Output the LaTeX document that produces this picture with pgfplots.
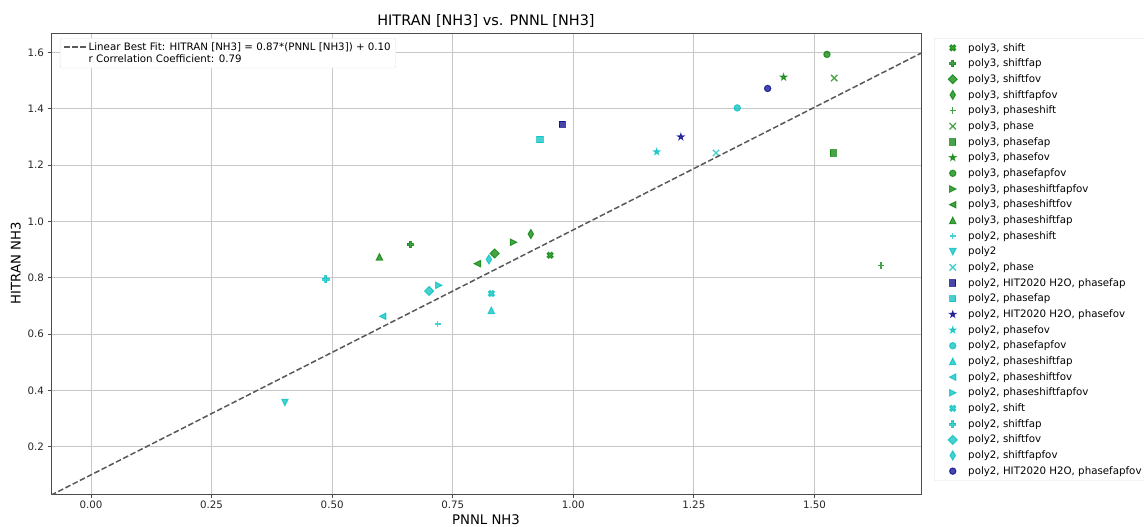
\documentclass[border=0pt]{standalone}
\usepackage{fontspec}
\setmainfont{DejaVu Sans}
\usepackage{pgfplots}
\pgfplotsset{compat=1.18}
\usetikzlibrary{calc}

\definecolor{cG}{RGB}{0,128,0}
\definecolor{cC}{RGB}{0,191,191}
\definecolor{cB}{RGB}{0,0,139}

% matplotlib-like markers, \pgfplotmarksize = half the marker size
\pgfdeclareplotmark{mplP}{%
  \pgfpathmoveto{\pgfpoint{-0.3333\pgfplotmarksize}{-\pgfplotmarksize}}%
  \pgfpathlineto{\pgfpoint{0.3333\pgfplotmarksize}{-\pgfplotmarksize}}%
  \pgfpathlineto{\pgfpoint{0.3333\pgfplotmarksize}{-0.3333\pgfplotmarksize}}%
  \pgfpathlineto{\pgfpoint{\pgfplotmarksize}{-0.3333\pgfplotmarksize}}%
  \pgfpathlineto{\pgfpoint{\pgfplotmarksize}{0.3333\pgfplotmarksize}}%
  \pgfpathlineto{\pgfpoint{0.3333\pgfplotmarksize}{0.3333\pgfplotmarksize}}%
  \pgfpathlineto{\pgfpoint{0.3333\pgfplotmarksize}{\pgfplotmarksize}}%
  \pgfpathlineto{\pgfpoint{-0.3333\pgfplotmarksize}{\pgfplotmarksize}}%
  \pgfpathlineto{\pgfpoint{-0.3333\pgfplotmarksize}{0.3333\pgfplotmarksize}}%
  \pgfpathlineto{\pgfpoint{-\pgfplotmarksize}{0.3333\pgfplotmarksize}}%
  \pgfpathlineto{\pgfpoint{-\pgfplotmarksize}{-0.3333\pgfplotmarksize}}%
  \pgfpathlineto{\pgfpoint{-0.3333\pgfplotmarksize}{-0.3333\pgfplotmarksize}}%
  \pgfpathclose\pgfusepathqfillstroke}
\pgfdeclareplotmark{mplX}{%
  \begin{pgfscope}\pgftransformrotate{45}%
  \pgfpathmoveto{\pgfpoint{-0.3333\pgfplotmarksize}{-\pgfplotmarksize}}%
  \pgfpathlineto{\pgfpoint{0.3333\pgfplotmarksize}{-\pgfplotmarksize}}%
  \pgfpathlineto{\pgfpoint{0.3333\pgfplotmarksize}{-0.3333\pgfplotmarksize}}%
  \pgfpathlineto{\pgfpoint{\pgfplotmarksize}{-0.3333\pgfplotmarksize}}%
  \pgfpathlineto{\pgfpoint{\pgfplotmarksize}{0.3333\pgfplotmarksize}}%
  \pgfpathlineto{\pgfpoint{0.3333\pgfplotmarksize}{0.3333\pgfplotmarksize}}%
  \pgfpathlineto{\pgfpoint{0.3333\pgfplotmarksize}{\pgfplotmarksize}}%
  \pgfpathlineto{\pgfpoint{-0.3333\pgfplotmarksize}{\pgfplotmarksize}}%
  \pgfpathlineto{\pgfpoint{-0.3333\pgfplotmarksize}{0.3333\pgfplotmarksize}}%
  \pgfpathlineto{\pgfpoint{-\pgfplotmarksize}{0.3333\pgfplotmarksize}}%
  \pgfpathlineto{\pgfpoint{-\pgfplotmarksize}{-0.3333\pgfplotmarksize}}%
  \pgfpathlineto{\pgfpoint{-0.3333\pgfplotmarksize}{-0.3333\pgfplotmarksize}}%
  \pgfpathclose\pgfusepathqfillstroke\end{pgfscope}}
\pgfdeclareplotmark{mplD}{%
  \pgfpathmoveto{\pgfpoint{0pt}{1.414\pgfplotmarksize}}%
  \pgfpathlineto{\pgfpoint{1.414\pgfplotmarksize}{0pt}}%
  \pgfpathlineto{\pgfpoint{0pt}{-1.414\pgfplotmarksize}}%
  \pgfpathlineto{\pgfpoint{-1.414\pgfplotmarksize}{0pt}}%
  \pgfpathclose\pgfusepathqfillstroke}
\pgfdeclareplotmark{mpld}{%
  \pgfpathmoveto{\pgfpoint{0pt}{1.414\pgfplotmarksize}}%
  \pgfpathlineto{\pgfpoint{0.849\pgfplotmarksize}{0pt}}%
  \pgfpathlineto{\pgfpoint{0pt}{-1.414\pgfplotmarksize}}%
  \pgfpathlineto{\pgfpoint{-0.849\pgfplotmarksize}{0pt}}%
  \pgfpathclose\pgfusepathqfillstroke}
\pgfdeclareplotmark{mpls}{%
  \pgfpathrectangle{\pgfpoint{-\pgfplotmarksize}{-\pgfplotmarksize}}{\pgfpoint{2\pgfplotmarksize}{2\pgfplotmarksize}}%
  \pgfusepathqfillstroke}
\pgfdeclareplotmark{mplo}{%
  \pgfpathcircle{\pgfpointorigin}{\pgfplotmarksize}\pgfusepathqfillstroke}
\pgfdeclareplotmark{mplup}{%
  \pgfpathmoveto{\pgfpoint{0pt}{\pgfplotmarksize}}%
  \pgfpathlineto{\pgfpoint{-\pgfplotmarksize}{-\pgfplotmarksize}}%
  \pgfpathlineto{\pgfpoint{\pgfplotmarksize}{-\pgfplotmarksize}}%
  \pgfpathclose\pgfusepathqfillstroke}
\pgfdeclareplotmark{mpldown}{%
  \pgfpathmoveto{\pgfpoint{0pt}{-\pgfplotmarksize}}%
  \pgfpathlineto{\pgfpoint{-\pgfplotmarksize}{\pgfplotmarksize}}%
  \pgfpathlineto{\pgfpoint{\pgfplotmarksize}{\pgfplotmarksize}}%
  \pgfpathclose\pgfusepathqfillstroke}
\pgfdeclareplotmark{mplleft}{%
  \pgfpathmoveto{\pgfpoint{-\pgfplotmarksize}{0pt}}%
  \pgfpathlineto{\pgfpoint{\pgfplotmarksize}{\pgfplotmarksize}}%
  \pgfpathlineto{\pgfpoint{\pgfplotmarksize}{-\pgfplotmarksize}}%
  \pgfpathclose\pgfusepathqfillstroke}
\pgfdeclareplotmark{mplright}{%
  \pgfpathmoveto{\pgfpoint{\pgfplotmarksize}{0pt}}%
  \pgfpathlineto{\pgfpoint{-\pgfplotmarksize}{\pgfplotmarksize}}%
  \pgfpathlineto{\pgfpoint{-\pgfplotmarksize}{-\pgfplotmarksize}}%
  \pgfpathclose\pgfusepathqfillstroke}
\pgfdeclareplotmark{mplstar}{%
  \pgfpathmoveto{\pgfpointpolar{90}{\pgfplotmarksize}}%
  \pgfpathlineto{\pgfpointpolar{126}{0.382\pgfplotmarksize}}%
  \pgfpathlineto{\pgfpointpolar{162}{\pgfplotmarksize}}%
  \pgfpathlineto{\pgfpointpolar{198}{0.382\pgfplotmarksize}}%
  \pgfpathlineto{\pgfpointpolar{234}{\pgfplotmarksize}}%
  \pgfpathlineto{\pgfpointpolar{270}{0.382\pgfplotmarksize}}%
  \pgfpathlineto{\pgfpointpolar{306}{\pgfplotmarksize}}%
  \pgfpathlineto{\pgfpointpolar{342}{0.382\pgfplotmarksize}}%
  \pgfpathlineto{\pgfpointpolar{18}{\pgfplotmarksize}}%
  \pgfpathlineto{\pgfpointpolar{54}{0.382\pgfplotmarksize}}%
  \pgfpathclose\pgfusepathqfillstroke}
\pgfdeclareplotmark{mplplus}{%
  \pgfsetlinewidth{1.4bp}%
  \pgfpathmoveto{\pgfpoint{-\pgfplotmarksize}{0pt}}%
  \pgfpathlineto{\pgfpoint{\pgfplotmarksize}{0pt}}%
  \pgfpathmoveto{\pgfpoint{0pt}{-\pgfplotmarksize}}%
  \pgfpathlineto{\pgfpoint{0pt}{\pgfplotmarksize}}%
  \pgfusepathqstroke}
\pgfdeclareplotmark{mplx}{%
  \pgfsetlinewidth{1.3bp}%
  \pgfpathmoveto{\pgfpoint{-\pgfplotmarksize}{-\pgfplotmarksize}}%
  \pgfpathlineto{\pgfpoint{\pgfplotmarksize}{\pgfplotmarksize}}%
  \pgfpathmoveto{\pgfpoint{-\pgfplotmarksize}{\pgfplotmarksize}}%
  \pgfpathlineto{\pgfpoint{\pgfplotmarksize}{-\pgfplotmarksize}}%
  \pgfusepathqstroke}

\newcommand{\sm}{\fontsize{10.3}{12}\selectfont}

\pgfplotsset{
  base/.style={
    width=870bp, height=461bp, scale only axis,
    xmin=-0.083, xmax=1.721, ymin=0.032, ymax=1.669,
  },
  pt/.style={only marks, mark=#1, mark size=3.2bp, line width=1bp, opacity=0.72,
    legend image code/.code={\path (0bp,-1bp) (28bp,1bp);
      \draw[only marks] plot coordinates {(15bp,0bp)};}},
  G/.style={pt=#1, color=cG},
  C/.style={pt=#1, color=cC},
  B/.style={pt=#1, color=cB},
}

\begin{document}
\begin{tikzpicture}
\begin{axis}[base,
  xtick={0,0.25,0.5,0.75,1,1.25,1.5},
  ytick={0.2,0.4,0.6,0.8,1.0,1.2,1.4,1.6},
  grid=major, grid style={black!22, line width=0.8bp},
  axis line style={black!70, line width=0.8bp},
  tick style={black!70, line width=0.8bp},
  tick align=outside, tick pos=left, major tick length=3.5bp,
  tick label style={font=\sm, color=black!85},
  /pgf/number format/assume math mode=true,
  x tick label style={/pgf/number format/.cd, fixed, fixed zerofill, precision=2},
  y tick label style={/pgf/number format/.cd, fixed, fixed zerofill, precision=1},
  title={HITRAN [NH3] vs. PNNL [NH3]},
  title style={font=\fontsize{14.5}{17}\selectfont, yshift=-4bp},
  xlabel={PNNL NH3}, ylabel={HITRAN NH3},
  label style={font=\fontsize{13.3}{16}\selectfont},
  xlabel style={yshift=1bp},
  legend cell align=left,
  legend style={at={(1.015,0.989)}, anchor=north west, draw=black!12, fill=white,
    rounded corners=2bp, font=\sm, row sep=2.4bp, inner xsep=3bp, inner ysep=3bp},
]
\coordinate (SW) at (rel axis cs:0,0);
\addplot[G=mplX] coordinates {(0.952,0.880)}; \addlegendentry{poly3, shift}
\addplot[G=mplP] coordinates {(0.662,0.918)}; \addlegendentry{poly3, shiftfap}
\addplot[G=mplD] coordinates {(0.837,0.886)}; \addlegendentry{poly3, shiftfov}
\addplot[G=mpld] coordinates {(0.912,0.955)}; \addlegendentry{poly3, shiftfapfov}
\addplot[G=mplplus] coordinates {(1.638,0.843)}; \addlegendentry{poly3, phaseshift}
\addplot[G=mplx] coordinates {(1.541,1.509)}; \addlegendentry{poly3, phase}
\addplot[G=mpls] coordinates {(1.539,1.243)}; \addlegendentry{poly3, phasefap}
\addplot[G=mplstar] coordinates {(1.436,1.512)}; \addlegendentry{poly3, phasefov}
\addplot[G=mplo] coordinates {(1.526,1.593)}; \addlegendentry{poly3, phasefapfov}
\addplot[G=mplright] coordinates {(0.876,0.926)}; \addlegendentry{poly3, phaseshiftfapfov}
\addplot[G=mplleft] coordinates {(0.801,0.850)}; \addlegendentry{poly3, phaseshiftfov}
\addplot[G=mplup] coordinates {(0.598,0.874)}; \addlegendentry{poly3, phaseshiftfap}
\addplot[C=mplplus] coordinates {(0.719,0.636)}; \addlegendentry{poly2, phaseshift}
\addplot[C=mpldown] coordinates {(0.402,0.357)}; \addlegendentry{poly2}
\addplot[C=mplx] coordinates {(1.296,1.243)}; \addlegendentry{poly2, phase}
\addplot[B=mpls] coordinates {(0.977,1.345)}; \addlegendentry{poly2, HIT2020 H2O, phasefap}
\addplot[C=mpls] coordinates {(0.931,1.291)}; \addlegendentry{poly2, phasefap}
\addplot[B=mplstar] coordinates {(1.223,1.300)}; \addlegendentry{poly2, HIT2020 H2O, phasefov}
\addplot[C=mplstar] coordinates {(1.173,1.247)}; \addlegendentry{poly2, phasefov}
\addplot[C=mplo] coordinates {(1.340,1.403)}; \addlegendentry{poly2, phasefapfov}
\addplot[C=mplup] coordinates {(0.830,0.684)}; \addlegendentry{poly2, phaseshiftfap}
\addplot[C=mplleft] coordinates {(0.605,0.663)}; \addlegendentry{poly2, phaseshiftfov}
\addplot[C=mplright] coordinates {(0.721,0.773)}; \addlegendentry{poly2, phaseshiftfapfov}
\addplot[C=mplX] coordinates {(0.830,0.744)}; \addlegendentry{poly2, shift}
\addplot[C=mplP] coordinates {(0.487,0.795)}; \addlegendentry{poly2, shiftfap}
\addplot[C=mplD] coordinates {(0.701,0.753)}; \addlegendentry{poly2, shiftfov}
\addplot[C=mpld] coordinates {(0.825,0.865)}; \addlegendentry{poly2, shiftfapfov}
\addplot[B=mplo] coordinates {(1.403,1.472)}; \addlegendentry{poly2, HIT2020 H2O, phasefapfov}
\end{axis}
\begin{axis}[base, hide axis,
  legend cell align=left,
  legend style={at={(0.0103,0.9885)}, anchor=north west, draw=black!12, fill=white,
    rounded corners=2bp, font=\sm, row sep=-1bp, inner xsep=3bp, inner ysep=2bp},
  legend image code/.code={\draw[#1] (0bp,0bp) -- (22bp,0bp);},
]
\addplot[black!65, line width=1.5bp, dash pattern=on 5.6bp off 2.5bp] coordinates {(-0.083,0.0278) (1.721,1.5973)};
\addlegendentry{Linear Best Fit: HITRAN [NH3] = 0.87*(PNNL [NH3]) + 0.10}
\addlegendimage{draw opacity=0}
\addlegendentry{r Correlation Coefficient: 0.79}
\end{axis}
\pgfresetboundingbox
\path[use as bounding box] ($(SW)+(-51bp,-33bp)$) rectangle ($(SW)+(1093bp,494bp)$);
\end{tikzpicture}
\end{document}
